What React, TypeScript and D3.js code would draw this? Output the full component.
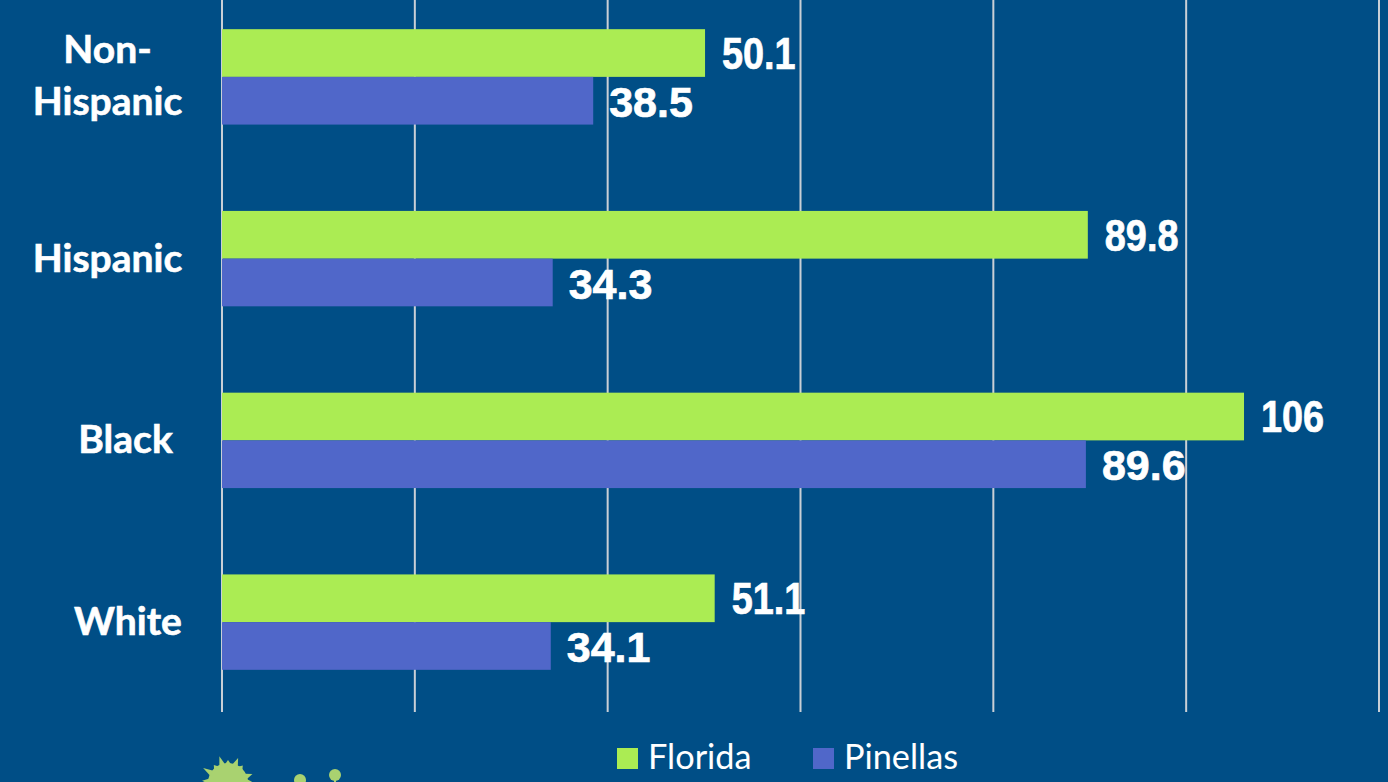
import React from "react";
import * as d3 from "d3";

const categories = ["Non-Hispanic", "Hispanic", "Black", "White"];
const categoryLines = [["Non-", "Hispanic"], ["Hispanic"], ["Black"], ["White"]];
const categoryCenters = [107.5, 107.5, 125.5, 128];
const florida = [50.1, 89.8, 106, 51.1];
const pinellas = [38.5, 34.3, 89.6, 34.1];
const floridaLabels = ["50.1", "89.8", "106", "51.1"];
const pinellasLabels = ["38.5", "34.3", "89.6", "34.1"];
const gridTicks = [0, 20, 40, 60, 80, 100, 120];
const spikeAngles = [-175, -149, -128, -108, -90, -68, -50, -20, -3];
const spikeLengths = [26, 29, 23, 28, 23, 27, 23, 26, 24];
const BG = "#004E86";
const GREEN = "#ABEC53";
const BLUE = "#5067C9";
const BLOB = "#A9D270";

export default function App() {
  const x = d3.scaleLinear().domain([0, 120]).range([222, 1379]);
  const y = d3.scaleBand().domain(categories).range([-14, 713]);
  const barH = 47.7;
  const cx = 228;
  const cy = 783;
  const r = 20;
  const rad = Math.PI / 180;
  const spikePaths = spikeAngles.map((a, i) => {
    const L = spikeLengths[i];
    const tip = [cx + L * Math.cos(a * rad), cy + L * Math.sin(a * rad)];
    const p1 = [cx + (r - 1) * Math.cos((a - 9) * rad), cy + (r - 1) * Math.sin((a - 9) * rad)];
    const p2 = [cx + (r - 1) * Math.cos((a + 9) * rad), cy + (r - 1) * Math.sin((a + 9) * rad)];
    return `M${p1[0]},${p1[1]}L${tip[0]},${tip[1]}L${p2[0]},${p2[1]}Z`;
  });
  return (
    <svg width={1388} height={782} style={{ position: "absolute", left: 0, top: 0, display: "block" }}>
      <rect width={1388} height={782} fill={BG} />
      {gridTicks.map((t) => (
        <line key={t} x1={x(t)} x2={x(t)} y1={0} y2={712} stroke="#C9CFD6" strokeWidth={2} />
      ))}
      {categories.map((c, i) => {
        const top = y(c) as number;
        const center = top + y.bandwidth() / 2;
        const lines = categoryLines[i];
        return (
          <g key={c}>
            <rect x={x(0)} y={center - barH} width={x(florida[i]) - x(0)} height={barH} fill={GREEN} />
            <rect x={x(0)} y={center} width={x(pinellas[i]) - x(0)} height={barH} fill={BLUE} />
            <text
              transform={`translate(${x(florida[i]) + 17},${center - 8}) scale(0.86,1)`}
              fontFamily="Liberation Sans"
              fontWeight={700}
              fontSize={44}
              fill="#fff"
              stroke="#fff"
              strokeWidth={0.7}
            >
              {floridaLabels[i]}
            </text>
            <text
              x={x(pinellas[i]) + 16}
              y={center + 40}
              fontFamily="Liberation Sans"
              fontWeight={700}
              fontSize={43}
              fill="#fff"
              stroke="#fff"
              strokeWidth={0.7}
            >
              {pinellasLabels[i]}
            </text>
            {lines.map((l, j) => (
              <text
                key={l}
                x={categoryCenters[i]}
                y={lines.length === 2 ? center - 14 + j * 52 : center + 13}
                textAnchor="middle"
                fontFamily="Lato"
                fontWeight={700}
                fontSize={39}
                fill="#fff"
                stroke="#fff"
                strokeWidth={0.6}
              >
                {l}
              </text>
            ))}
          </g>
        );
      })}
      <rect x={617} y={748} width={21} height={21} fill={GREEN} />
      <text x={648} y={769} fontFamily="Lato" fontSize={34.3} fill="#fff">Florida</text>
      <rect x={813} y={748} width={21} height={21} fill={BLUE} />
      <text x={844} y={769} fontFamily="Lato" fontSize={34.3} fill="#fff">Pinellas</text>
      <circle cx={cx} cy={cy} r={r} fill={BLOB} />
      {spikePaths.map((d, i) => (
        <path key={i} d={d} fill={BLOB} />
      ))}
      <circle cx={300} cy={780} r={6} fill={BLOB} />
      <circle cx={335} cy={775} r={6} fill={BLOB} />
      <rect x={334} y={778} width={2} height={6} fill={BLOB} />
    </svg>
  );
}
